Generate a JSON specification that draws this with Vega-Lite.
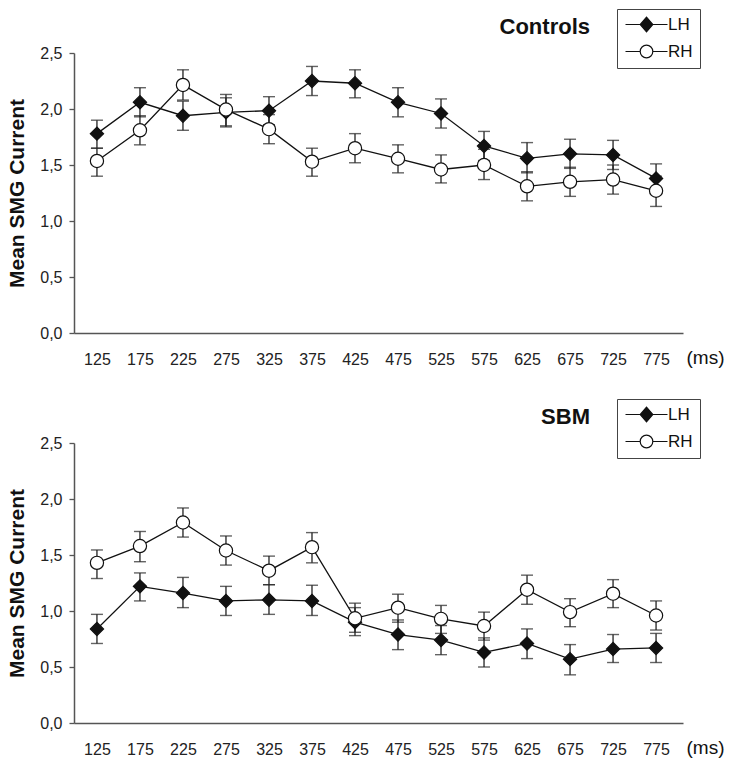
{
  "$schema": "https://vega.github.io/schema/vega-lite/v6.json",
  "padding": {"top": 8, "left": 6, "right": 5, "bottom": 5},
  "background": "white",
  "datasets": {
    "all": [
      {"g": "Controls", "h": "LH", "t": "125", "m": 1.78, "lo": 1.65, "hi": 1.90},
      {"g": "Controls", "h": "LH", "t": "175", "m": 2.06, "lo": 1.93, "hi": 2.19},
      {"g": "Controls", "h": "LH", "t": "225", "m": 1.94, "lo": 1.81, "hi": 2.07},
      {"g": "Controls", "h": "LH", "t": "275", "m": 1.97, "lo": 1.84, "hi": 2.10},
      {"g": "Controls", "h": "LH", "t": "325", "m": 1.985, "lo": 1.86, "hi": 2.11},
      {"g": "Controls", "h": "LH", "t": "375", "m": 2.25, "lo": 2.12, "hi": 2.38},
      {"g": "Controls", "h": "LH", "t": "425", "m": 2.23, "lo": 2.10, "hi": 2.35},
      {"g": "Controls", "h": "LH", "t": "475", "m": 2.06, "lo": 1.93, "hi": 2.19},
      {"g": "Controls", "h": "LH", "t": "525", "m": 1.96, "lo": 1.83, "hi": 2.09},
      {"g": "Controls", "h": "LH", "t": "575", "m": 1.67, "lo": 1.54, "hi": 1.80},
      {"g": "Controls", "h": "LH", "t": "625", "m": 1.56, "lo": 1.43, "hi": 1.70},
      {"g": "Controls", "h": "LH", "t": "675", "m": 1.60, "lo": 1.47, "hi": 1.73},
      {"g": "Controls", "h": "LH", "t": "725", "m": 1.59, "lo": 1.46, "hi": 1.72},
      {"g": "Controls", "h": "LH", "t": "775", "m": 1.38, "lo": 1.25, "hi": 1.51},
      {"g": "Controls", "h": "RH", "t": "125", "m": 1.536, "lo": 1.40, "hi": 1.65},
      {"g": "Controls", "h": "RH", "t": "175", "m": 1.81, "lo": 1.68, "hi": 1.94},
      {"g": "Controls", "h": "RH", "t": "225", "m": 2.215, "lo": 2.08, "hi": 2.35},
      {"g": "Controls", "h": "RH", "t": "275", "m": 1.995, "lo": 1.85, "hi": 2.13},
      {"g": "Controls", "h": "RH", "t": "325", "m": 1.82, "lo": 1.69, "hi": 1.95},
      {"g": "Controls", "h": "RH", "t": "375", "m": 1.53, "lo": 1.40, "hi": 1.65},
      {"g": "Controls", "h": "RH", "t": "425", "m": 1.65, "lo": 1.52, "hi": 1.78},
      {"g": "Controls", "h": "RH", "t": "475", "m": 1.556, "lo": 1.43, "hi": 1.68},
      {"g": "Controls", "h": "RH", "t": "525", "m": 1.46, "lo": 1.34, "hi": 1.59},
      {"g": "Controls", "h": "RH", "t": "575", "m": 1.50, "lo": 1.37, "hi": 1.64},
      {"g": "Controls", "h": "RH", "t": "625", "m": 1.31, "lo": 1.18, "hi": 1.44},
      {"g": "Controls", "h": "RH", "t": "675", "m": 1.35, "lo": 1.22, "hi": 1.48},
      {"g": "Controls", "h": "RH", "t": "725", "m": 1.37, "lo": 1.24, "hi": 1.50},
      {"g": "Controls", "h": "RH", "t": "775", "m": 1.27, "lo": 1.13, "hi": 1.40},
      {"g": "SBM", "h": "LH", "t": "125", "m": 0.84, "lo": 0.71, "hi": 0.97},
      {"g": "SBM", "h": "LH", "t": "175", "m": 1.22, "lo": 1.09, "hi": 1.34},
      {"g": "SBM", "h": "LH", "t": "225", "m": 1.16, "lo": 1.03, "hi": 1.30},
      {"g": "SBM", "h": "LH", "t": "275", "m": 1.09, "lo": 0.96, "hi": 1.22},
      {"g": "SBM", "h": "LH", "t": "325", "m": 1.10, "lo": 0.97, "hi": 1.235},
      {"g": "SBM", "h": "LH", "t": "375", "m": 1.09, "lo": 0.96, "hi": 1.23},
      {"g": "SBM", "h": "LH", "t": "425", "m": 0.90, "lo": 0.78, "hi": 1.03},
      {"g": "SBM", "h": "LH", "t": "475", "m": 0.79, "lo": 0.655, "hi": 0.92},
      {"g": "SBM", "h": "LH", "t": "525", "m": 0.74, "lo": 0.61, "hi": 0.87},
      {"g": "SBM", "h": "LH", "t": "575", "m": 0.63, "lo": 0.50, "hi": 0.76},
      {"g": "SBM", "h": "LH", "t": "625", "m": 0.71, "lo": 0.575, "hi": 0.84},
      {"g": "SBM", "h": "LH", "t": "675", "m": 0.57, "lo": 0.43, "hi": 0.70},
      {"g": "SBM", "h": "LH", "t": "725", "m": 0.66, "lo": 0.54, "hi": 0.79},
      {"g": "SBM", "h": "LH", "t": "775", "m": 0.67, "lo": 0.54, "hi": 0.80},
      {"g": "SBM", "h": "RH", "t": "125", "m": 1.43, "lo": 1.29, "hi": 1.545},
      {"g": "SBM", "h": "RH", "t": "175", "m": 1.58, "lo": 1.44, "hi": 1.71},
      {"g": "SBM", "h": "RH", "t": "225", "m": 1.79, "lo": 1.66, "hi": 1.92},
      {"g": "SBM", "h": "RH", "t": "275", "m": 1.54, "lo": 1.41, "hi": 1.67},
      {"g": "SBM", "h": "RH", "t": "325", "m": 1.36, "lo": 1.235, "hi": 1.49},
      {"g": "SBM", "h": "RH", "t": "375", "m": 1.57, "lo": 1.43, "hi": 1.70},
      {"g": "SBM", "h": "RH", "t": "425", "m": 0.935, "lo": 0.81, "hi": 1.07},
      {"g": "SBM", "h": "RH", "t": "475", "m": 1.03, "lo": 0.90, "hi": 1.15},
      {"g": "SBM", "h": "RH", "t": "525", "m": 0.93, "lo": 0.80, "hi": 1.05},
      {"g": "SBM", "h": "RH", "t": "575", "m": 0.866, "lo": 0.74, "hi": 0.99},
      {"g": "SBM", "h": "RH", "t": "625", "m": 1.19, "lo": 1.06, "hi": 1.32},
      {"g": "SBM", "h": "RH", "t": "675", "m": 0.99, "lo": 0.86, "hi": 1.11},
      {"g": "SBM", "h": "RH", "t": "725", "m": 1.155, "lo": 1.03, "hi": 1.28},
      {"g": "SBM", "h": "RH", "t": "775", "m": 0.96, "lo": 0.83, "hi": 1.09}
    ]
  },
  "spacing": 31,
  "vconcat": [
    {
      "width": 609,
      "height": 280,
      "title": {"text": "Controls", "anchor": "end", "dx": -93, "frame": "group", "offset": -30},
      "data": {"name": "all"},
      "transform": [{"filter": "datum.g == 'Controls'"}],
      "encoding": {
        "x": {"field": "t", "type": "ordinal", "scale": {"type": "point", "padding": 0.58, "align": 0.46},
          "axis": {"title": "(ms)", "titleX": 612, "titleY": 15, "titleAlign": "left", "titleBaseline": "top", "titleFontWeight": "normal", "titleFontSize": 19, "ticks": false, "labelPadding": 18, "labelAngle": 0}}
      },
      "layer": [
        {"mark": {"type": "rule", "color": "#222", "strokeWidth": 1.3},
         "encoding": {"y": {"field": "lo", "type": "quantitative", "title": "Mean SMG Current", "scale": {"domain": [0, 2.5], "nice": false},
            "axis": {"values": [0, 0.5, 1, 1.5, 2, 2.5], "labelExpr": "replace(format(datum.value, '.1f'), '.', ',')"}},
           "y2": {"field": "hi"}}},
        {"mark": {"type": "tick", "color": "#222", "thickness": 1.4, "size": 12},
         "encoding": {"y": {"field": "lo", "type": "quantitative", "title": "Mean SMG Current"}}},
        {"mark": {"type": "tick", "color": "#222", "thickness": 1.4, "size": 12},
         "encoding": {"y": {"field": "hi", "type": "quantitative", "title": "Mean SMG Current"}}},
        {"mark": {"type": "line", "color": "#111", "strokeWidth": 1.3},
         "encoding": {"y": {"field": "m", "type": "quantitative", "title": "Mean SMG Current"}, "detail": {"field": "h"}}},
        {"mark": {"type": "point", "filled": true, "size": 175, "stroke": "#111", "strokeWidth": 1.2, "opacity": 1},
         "encoding": {
           "y": {"field": "m", "type": "quantitative", "title": "Mean SMG Current"},
           "shape": {"condition": {"test": "datum.h == 'LH'", "value": "diamond"}, "value": "circle"},
           "fill": {"condition": {"test": "datum.h == 'LH'", "value": "#111"}, "value": "#ffffff"}
         }},
        {"transform": [{"filter": "false"}],
         "mark": {"type": "point", "filled": true, "strokeWidth": 1.2, "opacity": 1},
         "encoding": {
           "y": {"field": "m", "type": "quantitative", "title": "Mean SMG Current"},
           "shape": {"field": "h", "type": "nominal", "scale": {"domain": ["LH", "RH"], "range": ["M-1,0H5M2,-1.05L2.9,0L2,1.05L1.1,0Z", "M-1,0H1.1M2.9,0H5M2.9,0A0.9,0.9,0,1,1,1.1,0A0.9,0.9,0,1,1,2.9,0Z"]},
             "legend": {"title": null, "orient": "none", "legendX": 543, "legendY": -44, "symbolSize": 196, "strokeColor": "#444", "padding": 7, "labelFontSize": 17, "labelOffset": 27, "rowPadding": 7, "symbolStrokeWidth": 1.2}},
           "fill": {"field": "h", "type": "nominal", "scale": {"domain": ["LH", "RH"], "range": ["#111111", "#ffffff"]},
             "legend": {"title": null, "orient": "none", "legendX": 543, "legendY": -44, "symbolSize": 196, "strokeColor": "#444", "padding": 7, "labelFontSize": 17, "labelOffset": 27, "rowPadding": 7, "symbolStrokeWidth": 1.2}},
           "stroke": {"field": "h", "type": "nominal", "scale": {"domain": ["LH", "RH"], "range": ["#111111", "#111111"]},
             "legend": {"title": null, "orient": "none", "legendX": 543, "legendY": -44, "symbolSize": 196, "strokeColor": "#444", "padding": 7, "labelFontSize": 17, "labelOffset": 27, "rowPadding": 7, "symbolStrokeWidth": 1.2}}
         }}
      ]
    },
    {
      "width": 609,
      "height": 280,
      "title": {"text": "SBM", "anchor": "end", "dx": -93, "frame": "group", "offset": -30},
      "data": {"name": "all"},
      "transform": [{"filter": "datum.g == 'SBM'"}],
      "encoding": {
        "x": {"field": "t", "type": "ordinal", "scale": {"type": "point", "padding": 0.58, "align": 0.46},
          "axis": {"title": "(ms)", "titleX": 612, "titleY": 15, "titleAlign": "left", "titleBaseline": "top", "titleFontWeight": "normal", "titleFontSize": 19, "ticks": false, "labelPadding": 18, "labelAngle": 0}}
      },
      "layer": [
        {"mark": {"type": "rule", "color": "#222", "strokeWidth": 1.3},
         "encoding": {"y": {"field": "lo", "type": "quantitative", "title": "Mean SMG Current", "scale": {"domain": [0, 2.5], "nice": false},
            "axis": {"values": [0, 0.5, 1, 1.5, 2, 2.5], "labelExpr": "replace(format(datum.value, '.1f'), '.', ',')"}},
           "y2": {"field": "hi"}}},
        {"mark": {"type": "tick", "color": "#222", "thickness": 1.4, "size": 12},
         "encoding": {"y": {"field": "lo", "type": "quantitative", "title": "Mean SMG Current"}}},
        {"mark": {"type": "tick", "color": "#222", "thickness": 1.4, "size": 12},
         "encoding": {"y": {"field": "hi", "type": "quantitative", "title": "Mean SMG Current"}}},
        {"mark": {"type": "line", "color": "#111", "strokeWidth": 1.3},
         "encoding": {"y": {"field": "m", "type": "quantitative", "title": "Mean SMG Current"}, "detail": {"field": "h"}}},
        {"mark": {"type": "point", "filled": true, "size": 175, "stroke": "#111", "strokeWidth": 1.2, "opacity": 1},
         "encoding": {
           "y": {"field": "m", "type": "quantitative", "title": "Mean SMG Current"},
           "shape": {"condition": {"test": "datum.h == 'LH'", "value": "diamond"}, "value": "circle"},
           "fill": {"condition": {"test": "datum.h == 'LH'", "value": "#111"}, "value": "#ffffff"}
         }},
        {"transform": [{"filter": "false"}],
         "mark": {"type": "point", "filled": true, "strokeWidth": 1.2, "opacity": 1},
         "encoding": {
           "y": {"field": "m", "type": "quantitative", "title": "Mean SMG Current"},
           "shape": {"field": "h", "type": "nominal", "scale": {"domain": ["LH", "RH"], "range": ["M-1,0H5M2,-1.05L2.9,0L2,1.05L1.1,0Z", "M-1,0H1.1M2.9,0H5M2.9,0A0.9,0.9,0,1,1,1.1,0A0.9,0.9,0,1,1,2.9,0Z"]},
             "legend": {"title": null, "orient": "none", "legendX": 543, "legendY": -44, "symbolSize": 196, "strokeColor": "#444", "padding": 7, "labelFontSize": 17, "labelOffset": 27, "rowPadding": 7, "symbolStrokeWidth": 1.2}},
           "fill": {"field": "h", "type": "nominal", "scale": {"domain": ["LH", "RH"], "range": ["#111111", "#ffffff"]},
             "legend": {"title": null, "orient": "none", "legendX": 543, "legendY": -44, "symbolSize": 196, "strokeColor": "#444", "padding": 7, "labelFontSize": 17, "labelOffset": 27, "rowPadding": 7, "symbolStrokeWidth": 1.2}},
           "stroke": {"field": "h", "type": "nominal", "scale": {"domain": ["LH", "RH"], "range": ["#111111", "#111111"]},
             "legend": {"title": null, "orient": "none", "legendX": 543, "legendY": -44, "symbolSize": 196, "strokeColor": "#444", "padding": 7, "labelFontSize": 17, "labelOffset": 27, "rowPadding": 7, "symbolStrokeWidth": 1.2}}
         }}
      ]
    }
  ],
  "resolve": {"scale": {"shape": "independent", "fill": "independent", "stroke": "independent"}, "legend": {"shape": "independent", "fill": "independent", "stroke": "independent"}},
  "config": {
    "font": "Liberation Sans",
    "view": {"stroke": null},
    "title": {"fontSize": 22, "fontWeight": "bold", "color": "#111", "font": "Liberation Sans"},
    "legend": {"labelFont": "Liberation Sans", "labelColor": "#111"},
    "axis": {"grid": false, "labelFontSize": 16, "labelColor": "#222", "labelFont": "Liberation Sans", "domainColor": "#555", "domainWidth": 1.5, "tickColor": "#555", "tickWidth": 1.3, "titleColor": "#111", "titleFont": "Liberation Sans"},
    "axisY": {"tickSize": 5, "labelPadding": 7, "titleFontSize": 21, "titleFontWeight": "bold", "titlePadding": 12}
  }
}
